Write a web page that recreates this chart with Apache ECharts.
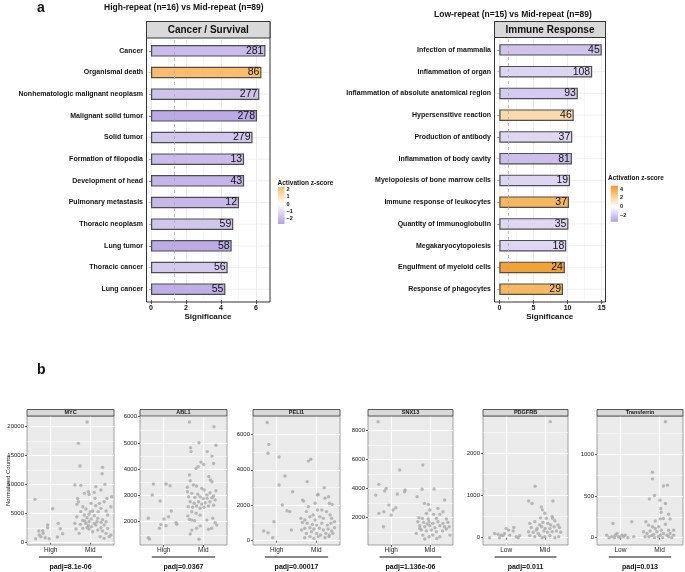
<!DOCTYPE html>
<html><head><meta charset="utf-8">
<script src="https://cdn.jsdelivr.net/npm/echarts@6/dist/echarts.min.js"></script>
<style>html,body{margin:0;padding:0;background:#fff}#c{width:685px;height:572px}</style>
</head><body><div id="c"></div>
<script>
// ---------- DATA ----------
const leftCats = ['Cancer','Organismal death','Nonhematologic malignant neoplasm','Malignant solid tumor','Solid tumor','Formation of filopodia','Development of head','Pulmonary metastasis','Thoracic neoplasm','Lung tumor','Thoracic cancer','Lung cancer'];
const leftSig = [6.54,6.31,6.19,6.06,5.80,5.32,5.32,5.03,4.70,4.61,4.38,4.25];
const leftCounts = [281,86,277,278,279,13,43,12,59,58,56,55];
const leftZ = [-1.9,2.27,-1.7,-2.4,-1.6,-1.9,-2.1,-2.0,-1.6,-2.35,-1.5,-2.25];

const rightCats = ['Infection of mammalia','Inflammation of organ','Inflammation of absolute anatomical region','Hypersensitive reaction','Production of antibody','Inflammation of body cavity','Myelopoiesis of bone marrow cells','Immune response of leukocytes','Quantity of immunoglobulin','Megakaryocytopoiesis','Engulfment of myeloid cells','Response of phagocytes'];
const rightSig = [15.0,13.6,11.5,10.9,10.68,10.63,10.36,10.2,10.12,9.8,9.6,9.33];
const rightCounts = [45,108,93,46,37,81,19,37,35,18,24,29];
const rightZ = [-2.1,-1.5,-1.9,1.8,-1.4,-2.3,-1.5,3.5,-1.4,-1.5,4.4,3.4];

const sigTicksLeft = [0,2,4,6];
const sigTicksRight = [0,5,10,15];
const zTicksLeft = [2,1,0,-1,-2];
const zTicksRight = [4,2,0,-2];

const geneNames = ['MYC','ABL1','PELI1','SNX13','PDGFRB','Transferrin'];
const groupLabels = [['High','Mid'],['High','Mid'],['High','Mid'],['High','Mid'],['Low','Mid'],['Low','Mid']];
const padjLabels = ['padj=8.1e-06','padj=0.0367','padj=0.00017','padj=1.136e-06','padj=0.011','padj=0.013'];
const countTicks = [[0,5000,10000,15000,20000],[2000,3000,4000,5000,6000],[0,2000,4000,6000],[2000,4000,6000,8000],[0,1000,2000],[0,500,1000]];

const mycPts = [[0.60,7470],[0.62,690],[0.70,2010],[0.75,1030],[0.80,2070],[0.81,1610],[0.92,2590],[0.92,3050],[0.96,690],[1.05,5860],[1.19,3330],[1.24,2410],[1.17,980],[1.30,1550],[0.71,1320],[0.86,860],
[1.92,20800],[1.70,17130],[1.74,13220],[1.61,9940],[1.76,9890],[2.31,12990],[2.30,11900],[2.37,10060],[2.14,9660],[1.95,8790],[1.97,8330],[1.85,8510],[2.10,8680],[2.27,9080],[1.68,7640],[2.42,7640],[1.70,7070],[1.66,6610],[2.35,7070],[2.23,6780],[2.02,6780],[2.14,6380],[1.81,6210],[1.89,5810],[2.27,5920],[2.06,5460],[2.20,5350],[2.40,5460],[1.76,5350],[1.66,4480],[1.85,4770],[1.97,4890],[2.10,4660],[1.92,4310],[2.02,4080],[1.81,3850],[2.19,4200],[2.31,3970],[1.97,3620],[1.89,3330],[2.10,3330],[2.27,3510],[2.40,3620],[1.75,3160],[1.95,2930],[2.03,2760],[2.14,3050],[2.35,3050],[1.64,2360],[1.81,2470],[1.92,2590],[2.27,2590],[2.44,2470],[2.19,2180],[2.31,2010],[1.72,1610],[2.06,1900],[2.40,1610],[2.52,1320],[2.25,1030],[2.35,750],[2.48,1030],[1.97,2360],[1.61,3330],[2.00,5350],[1.86,3740],[2.17,3620],[2.44,4770],[2.52,6210],[2.54,7930],[2.12,7640]];
const abl1Pts = [[0.61,1390],[0.64,1340],[0.61,2130],[0.71,3020],[0.74,3435],[0.91,2790],[0.89,1750],[0.93,1890],[1.01,2100],[1.06,3435],[1.12,2190],[1.16,3370],[1.19,2410],[1.06,1850],[1.31,1960],[1.33,1900],
[1.65,5800],[2.27,5620],[1.89,5010],[2.32,4910],[1.68,4820],[1.69,4670],[2.10,4670],[2.22,4500],[1.94,4270],[2.01,4180],[1.82,4030],[1.87,4100],[2.26,4220],[2.14,3720],[2.18,3590],[2.22,3520],[1.65,3780],[1.67,3560],[1.75,3400],[1.60,3310],[1.83,3360],[1.96,3270],[2.02,3210],[2.32,3180],[1.60,3140],[1.71,3080],[1.86,3050],[2.09,3020],[2.17,3100],[2.26,2980],[1.63,2950],[1.79,2930],[1.92,2950],[2.00,2880],[2.10,2890],[2.22,2910],[2.30,2830],[1.67,2760],[1.77,2700],[1.88,2760],[1.96,2670],[2.05,2720],[2.17,2760],[1.62,2570],[1.73,2550],[1.83,2600],[1.92,2510],[2.02,2550],[2.13,2600],[2.26,2630],[1.71,2380],[1.82,2320],[1.92,2250],[1.61,2220],[1.65,2090],[1.71,2060],[1.78,2040],[2.09,2060],[2.24,2130],[2.30,1960],[1.92,1840],[1.83,1750],[1.71,1680],[1.67,1530],[2.21,1750],[2.34,1870],[2.13,1710],[1.89,1330]];
const peli1Pts = [[0.76,6670],[0.80,5430],[0.78,4930],[1.06,4720],[1.21,3650],[1.06,3140],[1.40,2760],[1.14,2010],[1.26,1690],[1.33,1640],[0.93,1070],[1.37,600],[0.67,545],[0.78,450],[0.90,170],
[1.80,4490],[1.86,4590],[1.77,3330],[2.20,2990],[2.05,2610],[2.03,2580],[2.31,2480],[2.22,2390],[2.33,2110],[2.40,2050],[1.65,2290],[1.68,2240],[1.80,1920],[1.61,1260],[1.75,1640],[2.03,1730],[2.26,1640],[2.35,1450],[2.39,1260],[1.92,1450],[1.71,1170],[1.84,1350],[2.09,1350],[2.18,1260],[1.97,1170],[1.65,1030],[1.77,980],[1.90,920],[2.01,880],[2.14,980],[2.28,880],[2.37,980],[2.46,1070],[1.71,700],[1.84,730],[1.94,660],[2.08,700],[2.18,600],[2.30,660],[2.39,545],[1.63,600],[1.75,410],[1.88,510],[2.01,410],[2.11,320],[2.24,410],[2.33,320],[2.42,410],[1.71,170],[1.84,230],[2.22,170],[2.32,230],[1.94,130],[2.05,230],[2.46,730],[2.14,1730],[1.97,2110]];
const snx13Pts = [[0.66,8620],[0.68,4300],[0.60,3560],[0.83,3840],[0.87,4020],[0.94,2870],[0.68,2300],[0.81,2410],[1.00,2180],[1.05,2530],[1.12,2690],[1.22,5290],[1.16,3630],[1.35,3790],[1.36,3910],[0.80,1380],
[1.82,5630],[1.80,3960],[2.11,3980],[2.38,3220],[1.67,3450],[1.86,2990],[1.96,2920],[2.21,2640],[2.34,2410],[2.00,2530],[1.91,2300],[2.10,2230],[2.26,2230],[1.72,2000],[1.81,1950],[1.96,1910],[2.17,1950],[2.43,1910],[1.69,1720],[1.84,1680],[1.98,1720],[2.08,1610],[2.21,1720],[2.34,1610],[2.47,1680],[1.74,1450],[1.87,1380],[2.00,1450],[2.13,1310],[2.26,1450],[2.38,1380],[1.78,1150],[1.91,1080],[2.04,1150],[2.17,1030],[2.33,1080],[2.43,1220],[1.65,920],[1.82,800],[1.98,690],[2.08,800],[2.26,690],[2.52,800],[1.87,530],[2.18,570],[1.74,1260],[2.50,1380],[1.93,1560]];
const pdgfrbPts = [[0.57,0],[0.70,100],[0.83,0],[0.87,60],[0.92,50],[0.96,100],[1.00,220],[1.06,180],[1.18,160],[1.20,240],[1.31,0],[1.35,50],[0.79,80],[1.09,60],[1.26,25],
[2.14,2750],[1.75,1220],[1.58,870],[1.67,810],[1.91,730],[1.94,660],[2.21,870],[2.19,500],[2.20,460],[2.00,580],[1.61,340],[1.74,380],[1.87,300],[1.95,360],[2.08,340],[2.26,400],[2.34,300],[2.38,240],[1.65,240],[1.80,220],[1.92,260],[2.13,220],[2.24,260],[1.58,140],[1.70,130],[1.83,100],[1.98,160],[2.07,130],[2.19,140],[2.30,160],[2.41,130],[1.61,50],[1.74,25],[1.87,50],[2.00,25],[2.13,50],[2.26,0],[2.36,25],[1.93,0],[1.78,180],[2.01,220],[2.15,300],[1.89,470],[2.04,460]];
const transferrinPts = [[0.65,30],[0.71,0],[0.78,12],[0.81,170],[0.87,30],[0.91,50],[0.95,12],[0.99,0],[1.04,30],[1.12,30],[1.19,0],[1.29,190],[1.34,12],[0.85,0],[1.08,12],
[2.15,1390],[1.82,785],[1.82,705],[1.87,505],[1.74,465],[2.10,620],[2.20,630],[2.01,450],[2.15,410],[2.03,350],[2.04,305],[2.23,280],[2.10,230],[2.02,225],[2.27,225],[1.65,190],[1.72,150],[1.89,200],[1.82,130],[1.98,130],[2.15,160],[2.36,90],[1.59,70],[1.68,50],[1.76,80],[1.85,40],[1.93,70],[2.02,30],[2.10,50],[2.19,30],[2.27,50],[2.36,30],[1.63,12],[1.73,12],[1.87,0],[1.97,12],[2.08,0],[2.23,12],[2.31,0],[1.80,25],[2.04,90],[2.23,90],[1.89,110]];
const genePoints = [mycPts, abl1Pts, peli1Pts, snx13Pts, pdgfrbPts, transferrinPts];

// ---------- STYLE / LAYOUT ----------
const FONT = '"Liberation Sans", Arial, Helvetica, sans-serif';
const leftScale = {min:-2.67, max:2.27, low:'#b3a0e3', high:'#fbbd6a'};
const rightScale = {min:-3.4, max:4.76, low:'#b3a0e3', high:'#f39c21'};
function hex(c){return [parseInt(c.slice(1,3),16),parseInt(c.slice(3,5),16),parseInt(c.slice(5,7),16)];}
function mix(a,b,t){const A=hex(a),B=hex(b);t=Math.max(0,Math.min(1,t));return 'rgb('+A.map((v,i)=>Math.round(v+(B[i]-v)*t)).join(',')+')';}
function zColor(z,s){return z>=0?mix('#ffffff',s.high,z/s.max):mix('#ffffff',s.low,z/s.min);}
function gradient(s){const st=[];for(let k=0;k<=20;k++){const z=s.max-(s.max-s.min)*k/20;st.push({offset:k/20,color:zColor(z,s)});}return new echarts.graphic.LinearGradient(0,0,0,1,st);}
const minus = v => v<0 ? '\u2212'+Math.abs(v) : String(v);

const barPanels = [
  {grid:{left:146,top:40,width:124,height:260}, min:-0.286, max:6.8, major:2, frame:{x:146.5,y:21.5,w:123.5,h:280.5,s:16.5}, strip:'Cancer / Survival'},
  {grid:{left:494,top:39,width:111.5,height:261}, min:-0.78, max:15.55, major:5, frame:{x:494.5,y:21.5,w:111,h:280.5,s:16}, strip:'Immune Response'}
];
const legendGrids = [{left:278,top:187,width:6.5,height:37},{left:610.7,top:185.7,width:7.3,height:36}];
const scatterLayout = [
  {left:27,width:87,min:-397,max:21845,major:5000},
  {left:140,width:87,min:1112,max:6027,major:1000},
  {left:253,width:87,min:-243,max:7033,major:2000},
  {left:368,width:85,min:117,max:9014,major:2000},
  {left:483,width:85,min:-173,max:2884,major:1000},
  {left:597,width:86,min:-88,max:1459,major:500}
];
const SC_TOP = 416, SC_H = 129;

const grids=[], xAxes=[], yAxes=[], series=[];
const barData = [[leftCats,leftSig,leftCounts,leftZ,leftScale,sigTicksLeft],[rightCats,rightSig,rightCounts,rightZ,rightScale,sigTicksRight]];
barPanels.forEach((P,i)=>{
  const [cats,sig,counts,zs,scale,ticks] = barData[i];
  grids.push(Object.assign({show:false, outerBoundsMode:'none', containLabel:false}, P.grid));
  xAxes.push({type:'value', gridIndex:i, min:P.min, max:P.max, minInterval:P.major, maxInterval:P.major,
    axisLine:{show:false},
    axisTick:{show:true, customValues:ticks, length:4, lineStyle:{color:'#333',width:0.8}},
    axisLabel:{customValues:ticks, formatter:v=>String(v), fontSize:7, fontWeight:'bold', color:'#111', margin:5, fontFamily:FONT},
    splitLine:{show:true, lineStyle:{color:'#e6e6e6', width:0.8}},
    minorTick:{show:false, splitNumber:2},
    minorSplitLine:{show:true, lineStyle:{color:'#f1f1f1', width:0.6}},
    name:'Significance', nameLocation:'middle', nameGap:12.5, nameMoveOverlap:false,
    nameTextStyle:{fontSize:8, fontWeight:'bold', color:'#111', fontFamily:FONT}});
  yAxes.push({type:'category', gridIndex:i, data:cats, inverse:true,
    axisLine:{show:false},
    axisTick:{show:true, alignWithLabel:true, length:2, lineStyle:{color:'#333',width:0.8}},
    axisLabel:{fontSize:7, fontWeight:'bold', color:'#111', margin:3, fontFamily:FONT, interval:0},
    splitLine:{show:false}});
  series.push({type:'custom', xAxisIndex:i, yAxisIndex:i, z:1, silent:true, encode:{x:0,y:1},
    data:cats.map((c,j)=>[0,j]),
    renderItem:(p,api)=>{const cs=p.coordSys;const y=api.coord([0,api.value(1)])[1];
      return {type:'line', shape:{x1:cs.x,y1:y,x2:cs.x+cs.width,y2:y}, style:{stroke:'#ececec',lineWidth:0.8}};}});
  series.push({type:'bar', xAxisIndex:i, yAxisIndex:i, z:2, barWidth:11.5,
    data:sig.map((v,j)=>({value:v, itemStyle:{color:zColor(zs[j],scale)}})),
    itemStyle:{borderColor:'#4d4d4d', borderWidth:1.2},
    label:{show:true, position:'insideRight', distance:2, formatter:p=>String(counts[p.dataIndex]), fontSize:10.5, color:'#111', fontFamily:FONT},
    markLine:{silent:true, symbol:['none','none'], label:{show:false}, lineStyle:{color:'#a8a8a8', type:[3,3], width:0.8},
      data:[{xAxis:1.3}]}});
});
legendGrids.forEach((G,i)=>{
  const gi = 2+i, scale = i===0?leftScale:rightScale, ticks = i===0?zTicksLeft:zTicksRight;
  grids.push(Object.assign({show:false, outerBoundsMode:'none', containLabel:false}, G));
  xAxes.push({type:'category', gridIndex:gi, data:[''], show:false});
  yAxes.push({type:'value', gridIndex:gi, min:scale.min, max:scale.max, position:'right',
    axisLine:{show:false}, axisTick:{show:false}, splitLine:{show:false},
    axisLabel:{customValues:ticks, formatter:minus, fontSize:5.5, fontWeight:'bold', color:'#111', margin:2, fontFamily:FONT}});
  series.push({type:'custom', xAxisIndex:gi, yAxisIndex:gi, silent:true, data:[[0,0]],
    renderItem:(p,api)=>{const cs=p.coordSys;return {type:'rect',shape:{x:cs.x,y:cs.y,width:cs.width,height:cs.height},style:{fill:gradient(scale)}};}});
});
scatterLayout.forEach((L,k)=>{
  const gi = 4+k;
  grids.push({left:L.left, top:SC_TOP, width:L.width, height:SC_H, show:true, backgroundColor:'#ebebeb', borderColor:'#8a8a8a', borderWidth:0.8, outerBoundsMode:'none', containLabel:false});
  xAxes.push({type:'value', gridIndex:gi, min:0.4, max:2.6, minInterval:1, maxInterval:1,
    axisLine:{show:false},
    axisTick:{show:true, customValues:[1,2], length:2, lineStyle:{color:'#333',width:0.8}},
    axisLabel:{customValues:[1,2], formatter:v=>groupLabels[k][Math.round(v)-1], fontSize:6.5, color:'#222', margin:2, fontFamily:FONT},
    splitLine:{show:true, lineStyle:{color:'#ffffff', width:1}}});
  yAxes.push({type:'value', gridIndex:gi, min:L.min, max:L.max, minInterval:L.major, maxInterval:L.major,
    axisLine:{show:false},
    axisTick:{show:true, customValues:countTicks[k], length:2, lineStyle:{color:'#333',width:0.8}},
    axisLabel:{customValues:countTicks[k], formatter:v=>String(v), fontSize:6, color:'#222', margin:3, fontFamily:FONT},
    splitLine:{show:true, lineStyle:{color:'#ffffff', width:1}},
    minorTick:{show:false, splitNumber:2},
    minorSplitLine:{show:true, lineStyle:{color:'#ffffff', width:0.5}},
    name: k===0 ? 'Normalized Counts' : '', nameLocation:'middle', nameGap:16, nameRotate:90, nameMoveOverlap:false,
    nameTextStyle:{fontSize:6, color:'#222', fontFamily:FONT}});
  series.push({type:'scatter', xAxisIndex:gi, yAxisIndex:gi, symbol:'circle', symbolSize:3.4,
    itemStyle:{color:'#a9a9a9'}, data:genePoints[k], silent:true});
});

const T = (text,left,top,size,weight)=>({text,left,top,padding:0,textStyle:{fontSize:size,fontWeight:weight||'bold',color:'#111',fontFamily:FONT}});
const option = {
  animation:false, backgroundColor:'#fff',
  textStyle:{fontFamily:FONT},
  title:[
    T('a',37,1.5,14), T('b',37,363,14),
    T('High-repeat (n=16) vs Mid-repeat (n=89)',104,3,8.5),
    T('Low-repeat (n=15) vs Mid-repeat (n=89)',434,10,8.5),
    T('Activation z-score',277.5,179.5,6.5),
    T('Activation z-score',608,174.5,6.5)
  ],
  grid:grids, xAxis:xAxes, yAxis:yAxes, series:series
};
const chart = echarts.init(document.getElementById('c'));
chart.setOption(option);

// decorations (frames, strips, brackets) positioned from the layout and the axes' scales
const gfx = [];
barPanels.forEach(P=>{
  const f=P.frame;
  gfx.push({type:'rect', z:100, silent:true, shape:{x:f.x,y:f.y,width:f.w,height:f.h}, style:{fill:'none',stroke:'#333',lineWidth:1}});
  gfx.push({type:'rect', z:101, silent:true, shape:{x:f.x,y:f.y,width:f.w,height:f.s}, style:{fill:'#d9d9d9',stroke:'#333',lineWidth:1}});
  gfx.push({type:'text', z:102, silent:true, x:f.x+f.w/2, y:f.y+f.s/2+0.5, style:{text:P.strip,fontSize:10,fontWeight:'bold',fill:'#111',align:'center',verticalAlign:'middle',fontFamily:FONT}});
});
scatterLayout.forEach((L,k)=>{
  gfx.push({type:'rect', z:101, silent:true, shape:{x:L.left,y:SC_TOP-6.5,width:L.width,height:6.5}, style:{fill:'#d9d9d9',stroke:'#333',lineWidth:0.8}});
  gfx.push({type:'text', z:102, silent:true, x:L.left+L.width/2, y:SC_TOP-3.1, style:{text:geneNames[k],fontSize:5.5,fontWeight:'bold',fill:'#111',align:'center',verticalAlign:'middle',fontFamily:FONT}});
  const x1 = chart.convertToPixel({xAxisIndex:4+k}, 0.7);
  const x2 = chart.convertToPixel({xAxisIndex:4+k}, 2.3);
  const yb = SC_TOP+SC_H+12;
  gfx.push({type:'line', z:102, silent:true, shape:{x1:x1,y1:yb,x2:x2,y2:yb}, style:{stroke:'#111',lineWidth:1}});
  gfx.push({type:'text', z:102, silent:true, x:(x1+x2)/2, y:yb+10.5, style:{text:padjLabels[k],fontSize:7,fontWeight:'bold',fill:'#111',align:'center',verticalAlign:'middle',fontFamily:FONT}});
});
chart.setOption({graphic:gfx});
</script></body></html>
